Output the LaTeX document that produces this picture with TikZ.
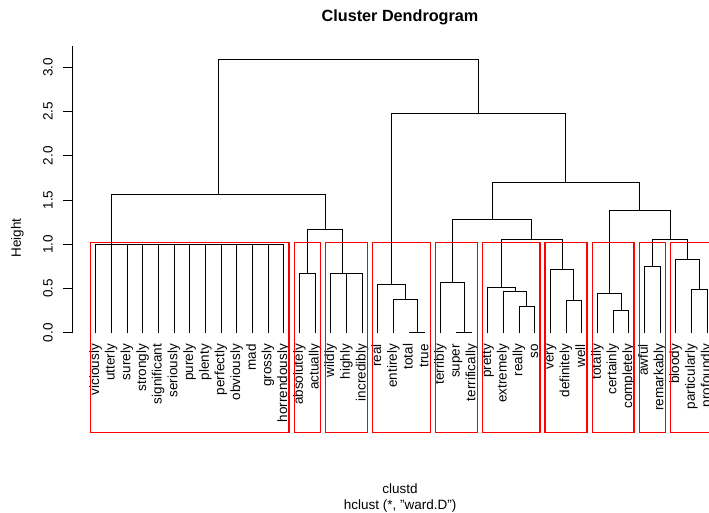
\documentclass[tikz,border=0pt]{standalone}
\usepackage{fontspec}
\setmainfont{Liberation Sans}
\usetikzlibrary{calc}

\tikzset{
  branch/.style={draw=black, line width=0.9pt},
  cutbox/.style={draw=red, line width=1.2pt},
  plaintext/.style={inner sep=0pt, font=\fontsize{13.5}{16}\selectfont},
  leaflab/.style={plaintext, rotate=90, anchor=base east},
  ticklab/.style={plaintext, rotate=90, anchor=base},
}

\begin{document}
\begin{tikzpicture}[x=15.68pt, y=88.5pt]
\useasboundingbox (-95.7pt,-180.2pt) rectangle (613.3pt,332.8pt);

% leaves and their labels
\foreach \w [count=\i from 0] in {viciously,utterly,surely,strongly,significant,seriously,purely,plenty,perfectly,obviously,mad,grossly,horrendously,absolutely,actually,wildly,highly,incredibly,real,entirely,total,true,terribly,super,terrifically,pretty,extremely,really,so,very,definitely,well,totally,certainly,completely,awful,remarkably,bloody,particularly,profoundly}
{
  \coordinate (\w) at (\i,0);
  \node[leaflab] (lab-\w) at ([xshift=3.3pt,yshift=-11pt]\w) {\w};
}

% merge points
\coordinate (g1) at (1,1.0);
\coordinate (aa) at (13.5,0.672);
\coordinate (hi) at (16.5,0.672);
\coordinate (whi) at (15.75,0.672);
\coordinate (L2) at (14.625,1.165);
\coordinate (L1) at (7.8125,1.565);
\coordinate (tt) at (20.5,0);
\coordinate (ett) at (19.75,0.378);
\coordinate (rett) at (18.875,0.548);
\coordinate (st) at (23.5,0);
\coordinate (tst) at (22.75,0.57);
\coordinate (rs) at (27.5,0.303);
\coordinate (ers) at (26.75,0.465);
\coordinate (pers) at (25.875,0.51);
\coordinate (dw) at (30.5,0.367);
\coordinate (vdw) at (29.75,0.717);
\coordinate (pv) at (27.8125,1.06);
\coordinate (tp) at (25.28125,1.286);
\coordinate (cc) at (33.5,0.254);
\coordinate (tcc) at (32.75,0.446);
\coordinate (ar) at (35.5,0.747);
\coordinate (pp) at (38.5,0.49);
\coordinate (bpp) at (37.75,0.834);
\coordinate (abp) at (36.625,1.06);
\coordinate (tab) at (34.6875,1.388);
\coordinate (R2) at (29.984,1.70);
\coordinate (R1) at (24.43,2.484);
\coordinate (root) at (16.12,3.086);

% the flat group
\foreach \w in {viciously,utterly,surely,strongly,significant,seriously,purely,plenty,perfectly,obviously,mad,grossly,horrendously}
  \draw[branch] (\w) -- (\w |- g1);
\draw[branch] (viciously |- g1) -- (horrendously |- g1);

% pairwise merges
\foreach \m/\a/\b in {aa/absolutely/actually, hi/highly/incredibly, whi/wildly/hi, L2/aa/whi, L1/g1/L2,
  tt/total/true, ett/entirely/tt, rett/real/ett, st/super/terrifically, tst/terribly/st,
  rs/really/so, ers/extremely/rs, pers/pretty/ers, dw/definitely/well, vdw/very/dw, pv/pers/vdw, tp/tst/pv,
  cc/certainly/completely, tcc/totally/cc, ar/awful/remarkably, pp/particularly/profoundly, bpp/bloody/pp,
  abp/ar/bpp, tab/tcc/abp, R2/tp/tab, R1/rett/R2, root/L1/R1}
  \draw[branch] (\a) |- (\m) -| (\b);

% axis
\coordinate (ax0) at (-1.492,0);
\coordinate (ax1) at (-1.492,3.244);
\draw[branch] (ax0) -- (ax1);
\foreach \v [count=\k] in {0.0,0.5,1.0,1.5,2.0,2.5,3.0}
{
  \coordinate (tk\k) at (-1.492,\v);
  \draw[branch] (tk\k) -- ++(-9pt,0);
  \node[ticklab] (tick\k) at (-2.742,\v) {\v};
}
\node[ticklab] (ylab) at (-4.764,1.071) {Height};

% titles
\node[plaintext, anchor=base, font=\bfseries\fontsize{16.2}{19}\selectfont] (title) at (19.41,3.523) {Cluster Dendrogram};
\node[plaintext, anchor=base] (xlab) at (19.41,-1.821) {clustd};
\node[plaintext, anchor=base] (sublab) at (19.41,-2.002) {hclust (*, "ward.D")};

% cut into 10 groups
\foreach \a/\b in {0/12,13/14,15/17,18/21,22/24,25/28,29/31,32/34,35/36,37/39}
  \draw[cutbox] (\a-0.34,-1.129) rectangle (\b+0.33,1.023);

\end{tikzpicture}
\end{document}
